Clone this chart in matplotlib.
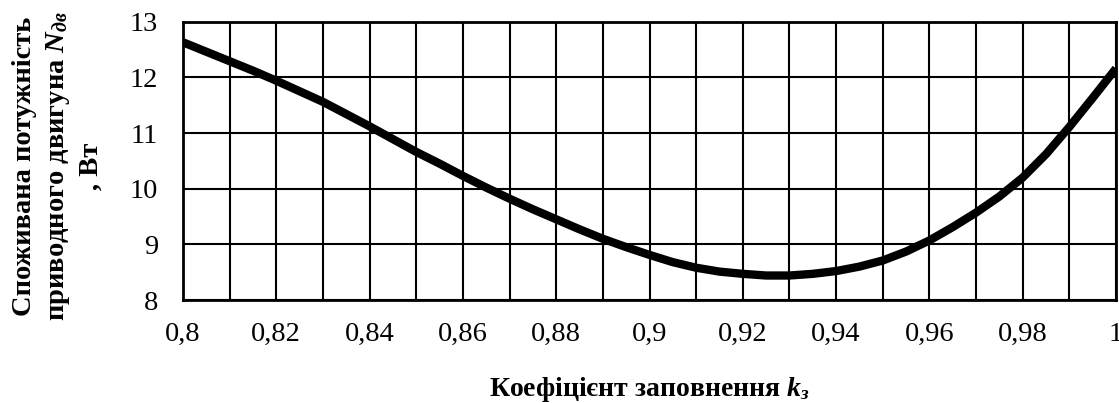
import matplotlib
matplotlib.use("Agg")
import matplotlib.pyplot as plt

k_values = [0.800, 0.805, 0.810, 0.815, 0.820, 0.825, 0.830, 0.835, 0.840, 0.845,
            0.850, 0.855, 0.860, 0.865, 0.870, 0.875, 0.880, 0.885, 0.890, 0.895,
            0.900, 0.905, 0.910, 0.915, 0.920, 0.925, 0.930, 0.935, 0.940, 0.945,
            0.950, 0.955, 0.960, 0.965, 0.970, 0.975, 0.980, 0.985, 0.990, 0.995, 1.000]
power_values = [12.63, 12.46, 12.29, 12.12, 11.94, 11.75, 11.56, 11.34, 11.12, 10.89,
                10.66, 10.45, 10.23, 10.02, 9.82, 9.63, 9.45, 9.27, 9.10, 8.95,
                8.81, 8.68, 8.58, 8.51, 8.47, 8.44, 8.44, 8.47, 8.52, 8.60,
                8.71, 8.87, 9.07, 9.31, 9.57, 9.86, 10.20, 10.62, 11.11, 11.63, 12.16]
x_ticks = [0.80, 0.82, 0.84, 0.86, 0.88, 0.90, 0.92, 0.94, 0.96, 0.98, 1.00]
x_tick_labels = ["0,8", "0,82", "0,84", "0,86", "0,88", "0,9", "0,92", "0,94", "0,96", "0,98", "1"]
x_minor = [0.81, 0.83, 0.85, 0.87, 0.89, 0.91, 0.93, 0.95, 0.97, 0.99]
y_ticks = [8, 9, 10, 11, 12, 13]

plt.rcParams['font.family'] = ['Liberation Serif', 'DejaVu Serif']
plt.rcParams['mathtext.fontset'] = 'custom'
plt.rcParams['mathtext.it'] = 'Liberation Serif:italic:bold'
plt.rcParams['mathtext.rm'] = 'Liberation Serif:bold'
plt.rcParams['mathtext.bf'] = 'Liberation Serif:bold'

fig = plt.figure(figsize=(11.19, 4.03), dpi=100)
ax = fig.add_axes([183/1119, 1 - 300/403, (1116-183)/1119, (300-21.7)/403])

ax.plot(k_values, power_values, color='black', linewidth=6, solid_capstyle='butt',
        solid_joinstyle='round', zorder=3)

ax.set_xlim(0.8, 1.0)
ax.set_ylim(8, 13)
ax.set_xticks(x_ticks)
ax.set_xticklabels(x_tick_labels)
ax.set_xticks(x_minor, minor=True)
ax.set_yticks(y_ticks)
ax.grid(True, which='both', color='black', linewidth=1.5)
ax.tick_params(which='both', length=0, labelsize=20.5)
ax.tick_params(axis='x', pad=16)
ax.tick_params(axis='y', pad=18)
for s in ax.spines.values():
    s.set_linewidth(2)
    s.set_color('black')

fig.text(0.5*(183+1116)/1119, 1 - 389/403, r"Коефіцієнт заповнення $\mathit{k}_{\mathit{з}}$",
         ha='center', va='center', fontsize=20, fontweight='bold')
fig.text(58/1119, 1 - 166/403,
         "Споживана потужність\nприводного двигуна $\\mathit{N}_{\\mathit{дв}}$\n, Вт",
         ha='center', va='center', rotation=90, fontsize=20.5, fontweight='bold',
         linespacing=1.35)

fig.savefig("out.png", dpi=100)
